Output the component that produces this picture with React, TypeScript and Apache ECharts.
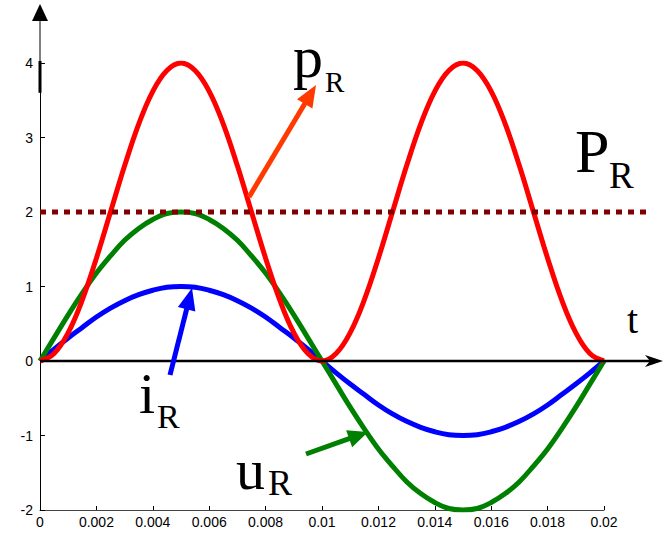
import React, { useEffect, useRef } from 'react';
import * as echarts from 'echarts';

const T = [
  0, 0.0005, 0.001, 0.0015, 0.002, 0.0025, 0.003, 0.0035, 0.004, 0.0045, 0.005,
  0.0055, 0.006, 0.0065, 0.007, 0.0075, 0.008, 0.0085, 0.009, 0.0095, 0.01,
  0.0105, 0.011, 0.0115, 0.012, 0.0125, 0.013, 0.0135, 0.014, 0.0145, 0.015,
  0.0155, 0.016, 0.0165, 0.017, 0.0175, 0.018, 0.0185, 0.019, 0.0195, 0.02,
];
const I_R = [
  0, 0.16, 0.31, 0.45, 0.59, 0.71, 0.81, 0.89, 0.95, 0.99, 1,
  0.99, 0.95, 0.89, 0.81, 0.71, 0.59, 0.45, 0.31, 0.16, 0,
  -0.16, -0.31, -0.45, -0.59, -0.71, -0.81, -0.89, -0.95, -0.99, -1,
  -0.99, -0.95, -0.89, -0.81, -0.71, -0.59, -0.45, -0.31, -0.16, 0,
];
const U_R = [
  0, 0.31, 0.62, 0.91, 1.18, 1.41, 1.62, 1.78, 1.9, 1.98, 2,
  1.98, 1.9, 1.78, 1.62, 1.41, 1.18, 0.91, 0.62, 0.31, 0,
  -0.31, -0.62, -0.91, -1.18, -1.41, -1.62, -1.78, -1.9, -1.98, -2,
  -1.98, -1.9, -1.78, -1.62, -1.41, -1.18, -0.91, -0.62, -0.31, 0,
];
const P_R = [
  0, 0.1, 0.38, 0.82, 1.38, 2, 2.62, 3.18, 3.62, 3.9, 4,
  3.9, 3.62, 3.18, 2.62, 2, 1.38, 0.82, 0.38, 0.1, 0,
  0.1, 0.38, 0.82, 1.38, 2, 2.62, 3.18, 3.62, 3.9, 4,
  3.9, 3.62, 3.18, 2.62, 2, 1.38, 0.82, 0.38, 0.1, 0,
];
const P_AVG_X = [0, 0.0215];
const P_AVG_Y = [2, 2];
const X_TICKS = ['0', '0.002', '0.004', '0.006', '0.008', '0.01', '0.012', '0.014', '0.016', '0.018', '0.02'];
const Y_TICKS = ['-2', '-1', '0', '1', '2', '3', '4'];

const SERIF = '"Liberation Serif", "Times New Roman", serif';
const SANS = '"Liberation Sans", Arial, sans-serif';

function arrow(x1: number, y1: number, x2: number, y2: number, color: string, w: number, hl: number, hw: number) {
  const dx = x2 - x1, dy = y2 - y1;
  const L = Math.hypot(dx, dy);
  const ux = dx / L, uy = dy / L;
  const bx = x2 - ux * hl, by = y2 - uy * hl;
  const nx = -uy, ny = ux;
  return [
    { type: 'line', z: 100, shape: { x1, y1, x2: bx + ux * 3, y2: by + uy * 3 }, style: { stroke: color, lineWidth: w } },
    {
      type: 'polygon', z: 100,
      shape: { points: [[x2, y2], [bx + nx * hw, by + ny * hw], [bx - nx * hw, by - ny * hw]] },
      style: { fill: color },
    },
  ];
}

function label(x: number, baseline: number, text: string, size: number) {
  return {
    type: 'text', z: 100, x, y: baseline - 0.34 * size,
    style: { text, fontSize: size, fontFamily: SERIF, fill: '#000', align: 'left', verticalAlign: 'middle' },
  };
}

export default function App() {
  const ref = useRef<HTMLDivElement>(null);
  useEffect(() => {
    const chart = echarts.init(ref.current!, null, { renderer: 'svg' });
    const pair = (ys: number[]) => T.map((t, k) => [t, ys[k]]);
    const lineSeries = (name: string, ys: number[], color: string) => ({
      name, type: 'line', data: pair(ys), showSymbol: false, smooth: 0.4,
      lineStyle: { color, width: 5 }, itemStyle: { color },
    });
    chart.setOption({
      animation: false,
      grid: { left: 40, right: 60, top: 63, bottom: 26 },
      xAxis: {
        type: 'value', min: 0, max: 0.02, interval: 0.002,
        axisLine: { onZero: false, lineStyle: { color: '#444', width: 1 } },
        axisTick: { inside: true, length: 4, lineStyle: { color: '#000' } },
        axisLabel: {
          formatter: (v: number) => X_TICKS[Math.round(v / 0.002)],
          color: '#000', fontSize: 14, fontFamily: SANS, margin: 5,
        },
        splitLine: { show: false },
      },
      yAxis: {
        type: 'value', min: -2, max: 4, interval: 1,
        axisLine: { show: true, lineStyle: { color: '#000', width: 1 } },
        axisTick: { show: true, inside: true, length: 5, lineStyle: { color: '#000' } },
        axisLabel: {
          formatter: (v: number) => Y_TICKS[Math.round(v + 2)],
          color: '#000', fontSize: 14, fontFamily: SANS, margin: 7,
        },
        splitLine: { show: false },
      },
      series: [
        lineSeries('iR', I_R, '#0000ff'),
        lineSeries('uR', U_R, '#008000'),
        lineSeries('pR', P_R, '#ff0000'),
      ],
    });

    const px = (x: number, y: number) => chart.convertToPixel({ gridIndex: 0 }, [x, y]) as number[];
    const [x0, y0] = px(0, 0);
    const [, yTop] = px(0, 4);
    const [, y36] = px(0, 3.6);
    const [ax1, ay1] = px(P_AVG_X[0], P_AVG_Y[0]);
    const [ax2, ay2] = px(P_AVG_X[1], P_AVG_Y[1]);

    const graphics: any[] = [
      // average power dotted line
      {
        type: 'line', z: 50, shape: { x1: ax1, y1: ay1, x2: ax2, y2: ay2 },
        style: { stroke: '#800000', lineWidth: 5, lineDash: [6, 6] },
      },
      // y-axis extension + arrow
      { type: 'line', z: 90, shape: { x1: x0, y1: 18, x2: x0, y2: yTop }, style: { stroke: '#000', lineWidth: 1 } },
      { type: 'line', z: 90, shape: { x1: x0, y1: yTop - 2, x2: x0, y2: y36 }, style: { stroke: '#000', lineWidth: 3 } },
      { type: 'polygon', z: 90, shape: { points: [[x0, 4], [x0 - 8, 21], [x0 + 8, 21]] }, style: { fill: '#000' } },
      // x-axis at zero + arrow
      { type: 'line', z: 90, shape: { x1: x0, y1: y0, x2: 652, y2: y0 }, style: { stroke: '#000', lineWidth: 2.5 } },
      { type: 'polygon', z: 90, shape: { points: [[663, y0], [645, y0 - 6], [650, y0], [645, y0 + 6]] }, style: { fill: '#000' } },
      // annotation arrows
      ...arrow(249, 197, 316, 85, '#ff3a00', 5, 22, 9),
      ...arrow(170, 375, 192, 288, '#0000ff', 5, 22, 9),
      ...arrow(306, 454, 368, 432, '#008000', 5, 20, 9),
      // labels
      label(293, 77, 'p', 60),
      label(325, 92, 'R', 29),
      label(575, 172, 'P', 62),
      label(609, 188, 'R', 37),
      label(139, 413, 'i', 58),
      label(157, 428, 'R', 34),
      label(236, 489, 'u', 58),
      label(268, 495, 'R', 36),
      label(627, 333, 't', 40),
    ];
    chart.setOption({ graphic: graphics });

    return () => chart.dispose();
  }, []);
  return <div ref={ref} style={{ position: 'absolute', left: 0, top: 0, width: 664, height: 536 }} />;
}
